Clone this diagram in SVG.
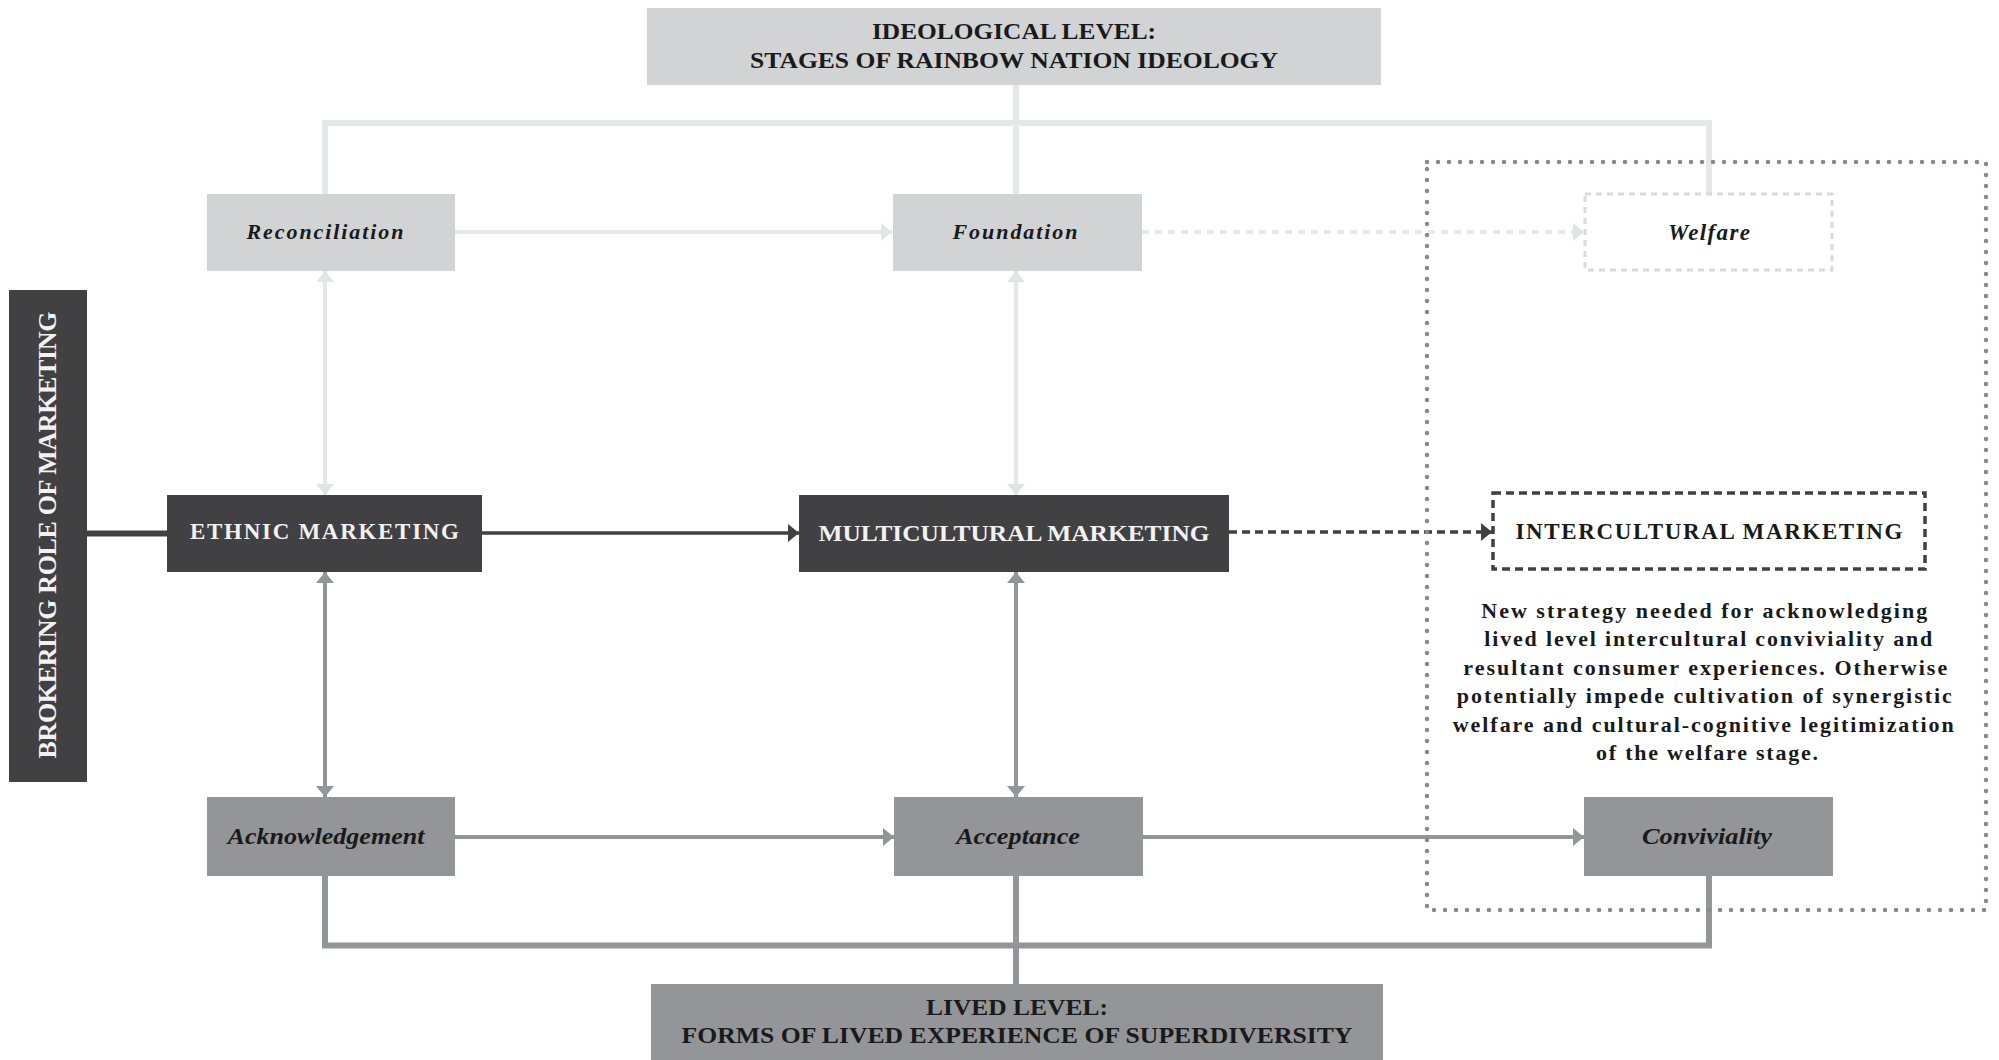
<svg xmlns="http://www.w3.org/2000/svg" width="1999" height="1060" viewBox="0 0 1999 1060">
<style>
.t{font-family:"Liberation Serif","Times New Roman",serif;font-weight:bold}
.it{font-style:italic}
.lightbox{fill:#d1d3d4}
.darkbox{fill:#414042}
.midbox{fill:#939598}
.lc{stroke:#e6e7e8;fill:none}
.mc{stroke:#939598;fill:none}
.dc{stroke:#414042;fill:none}
</style>
<defs>
<marker id="aL" markerUnits="userSpaceOnUse" markerWidth="12" markerHeight="20" refX="11" refY="10" orient="auto-start-reverse"><path d="M0,1 L11,10 L0,19 z" fill="#e3e4e5"/></marker>
<marker id="aM" markerUnits="userSpaceOnUse" markerWidth="12" markerHeight="20" refX="11" refY="10" orient="auto-start-reverse"><path d="M0,1 L11,10 L0,19 z" fill="#939598"/></marker>
<marker id="aD" markerUnits="userSpaceOnUse" markerWidth="12" markerHeight="20" refX="11" refY="10" orient="auto-start-reverse"><path d="M0,1 L11,10 L0,19 z" fill="#414042"/></marker>
</defs>
<rect width="1999" height="1060" fill="#ffffff"/>

<g id="connectors">
  <path class="lc" stroke-width="6" d="M1016,85 V194 M325,194 V123 H1709 V194"/>
  <path class="mc" stroke-width="6" d="M325,876 V945.5 H1709 V876 M1016,876 V984"/>
  <line class="dc" stroke-width="6" x1="87" y1="533.5" x2="167" y2="533.5"/>
  <line class="lc" stroke-width="4" x1="455" y1="232" x2="892" y2="232" marker-end="url(#aL)"/>
  <line class="lc" stroke-width="4" stroke-dasharray="7 6" x1="1142" y1="232" x2="1584" y2="232" marker-end="url(#aL)"/>
  <line class="lc" stroke-width="4" x1="325" y1="271" x2="325" y2="495" marker-start="url(#aL)" marker-end="url(#aL)"/>
  <line class="lc" stroke-width="4" x1="1016" y1="271" x2="1016" y2="495" marker-start="url(#aL)" marker-end="url(#aL)"/>
  <line class="dc" stroke-width="3.5" x1="482" y1="533" x2="799" y2="533" marker-end="url(#aD)"/>
  <line class="dc" stroke-width="3.5" stroke-dasharray="8 5" x1="1229" y1="532" x2="1492" y2="532" marker-end="url(#aD)"/>
  <line class="mc" stroke-width="4" x1="325" y1="572" x2="325" y2="797" marker-start="url(#aM)" marker-end="url(#aM)"/>
  <line class="mc" stroke-width="4" x1="1016" y1="572" x2="1016" y2="797" marker-start="url(#aM)" marker-end="url(#aM)"/>
  <line class="mc" stroke-width="4" x1="455" y1="837" x2="894" y2="837" marker-end="url(#aM)"/>
  <line class="mc" stroke-width="4" x1="1142" y1="837" x2="1584" y2="837" marker-end="url(#aM)"/>
</g>

<g id="frame">
  <rect x="1427" y="162" width="559" height="748" fill="none" stroke="#8a8a8a" stroke-width="4.5" stroke-linecap="round" stroke-dasharray="0 11"/>
</g>

<g id="ideological">
  <rect class="lightbox" x="647" y="8" width="734" height="77"/>
  <text class="t" x="1014" y="39" font-size="24" text-anchor="middle" fill="#1a1a1a" textLength="284" lengthAdjust="spacingAndGlyphs">IDEOLOGICAL LEVEL:</text>
  <text class="t" x="1014" y="68" font-size="24" text-anchor="middle" fill="#1a1a1a" textLength="528" lengthAdjust="spacingAndGlyphs">STAGES OF RAINBOW NATION IDEOLOGY</text>
</g>

<g id="reconciliation">
  <rect class="lightbox" x="207" y="194" width="248" height="77"/>
  <text class="t it" x="325" y="239" font-size="22" text-anchor="middle" fill="#1a1a1a" textLength="157" lengthAdjust="spacing">Reconciliation</text>
</g>
<g id="foundation">
  <rect class="lightbox" x="893" y="194" width="249" height="77"/>
  <text class="t it" x="1015" y="239" font-size="22" text-anchor="middle" fill="#1a1a1a" textLength="125" lengthAdjust="spacing">Foundation</text>
</g>
<g id="welfare">
  <rect x="1585" y="194" width="247" height="76" fill="#ffffff" stroke="#d9dadb" stroke-width="3" stroke-dasharray="6 5"/>
  <text class="t it" x="1709" y="240" font-size="23" text-anchor="middle" fill="#1a1a1a" textLength="82" lengthAdjust="spacing">Welfare</text>
</g>

<g id="brokering">
  <rect class="darkbox" x="9" y="290" width="78" height="492"/>
  <text class="t" transform="translate(56,535) rotate(-90)" x="0" y="0" font-size="26" text-anchor="middle" fill="#f2f2f2" textLength="447" lengthAdjust="spacing">BROKERING ROLE OF MARKETING</text>
</g>

<g id="ethnic">
  <rect class="darkbox" x="167" y="495" width="315" height="77"/>
  <text class="t" x="324.5" y="539" font-size="23" text-anchor="middle" fill="#f2f2f2" textLength="269" lengthAdjust="spacing">ETHNIC MARKETING</text>
</g>
<g id="multicultural">
  <rect class="darkbox" x="799" y="495" width="430" height="77"/>
  <text class="t" x="1014" y="541" font-size="24" text-anchor="middle" fill="#f2f2f2" textLength="391" lengthAdjust="spacingAndGlyphs">MULTICULTURAL MARKETING</text>
</g>
<g id="intercultural">
  <rect x="1493" y="493" width="432" height="76" fill="#ffffff" stroke="#414042" stroke-width="3.5" stroke-dasharray="8 5"/>
  <text class="t" x="1709" y="539" font-size="23" text-anchor="middle" fill="#1a1a1a" textLength="387" lengthAdjust="spacing">INTERCULTURAL MARKETING</text>
</g>

<g id="note">
  <text class="t" font-size="22" text-anchor="middle" fill="#1a1a1a">
    <tspan x="1708" y="618" textLength="446" lengthAdjust="spacing">New strategy needed for acknowledging</tspan>
    <tspan x="1712" y="646" textLength="448" lengthAdjust="spacing">lived level intercultural conviviality and</tspan>
    <tspan x="1709" y="675" textLength="484" lengthAdjust="spacing">resultant consumer experiences. Otherwise</tspan>
    <tspan x="1708" y="703" textLength="495" lengthAdjust="spacing">potentially impede cultivation of synergistic</tspan>
    <tspan x="1707" y="732" textLength="501" lengthAdjust="spacing">welfare and cultural-cognitive legitimization</tspan>
    <tspan x="1707" y="760" textLength="222" lengthAdjust="spacing">of the welfare stage.</tspan>
  </text>
</g>

<g id="acknowledgement">
  <rect class="midbox" x="207" y="797" width="248" height="79"/>
  <text class="t it" x="326" y="844" font-size="23" text-anchor="middle" fill="#1a1a1a" textLength="197" lengthAdjust="spacingAndGlyphs">Acknowledgement</text>
</g>
<g id="acceptance">
  <rect class="midbox" x="894" y="797" width="249" height="79"/>
  <text class="t it" x="1018" y="844" font-size="23" text-anchor="middle" fill="#1a1a1a" textLength="124" lengthAdjust="spacingAndGlyphs">Acceptance</text>
</g>
<g id="conviviality">
  <rect class="midbox" x="1584" y="797" width="249" height="79"/>
  <text class="t it" x="1707" y="844" font-size="23" text-anchor="middle" fill="#1a1a1a" textLength="130" lengthAdjust="spacingAndGlyphs">Conviviality</text>
</g>

<g id="lived">
  <rect class="midbox" x="651" y="984" width="732" height="76"/>
  <text class="t" x="1017" y="1015" font-size="24" text-anchor="middle" fill="#1a1a1a" textLength="182" lengthAdjust="spacingAndGlyphs">LIVED LEVEL:</text>
  <text class="t" x="1017" y="1043" font-size="24" text-anchor="middle" fill="#1a1a1a" textLength="671" lengthAdjust="spacingAndGlyphs">FORMS OF LIVED EXPERIENCE OF SUPERDIVERSITY</text>
</g>
</svg>
